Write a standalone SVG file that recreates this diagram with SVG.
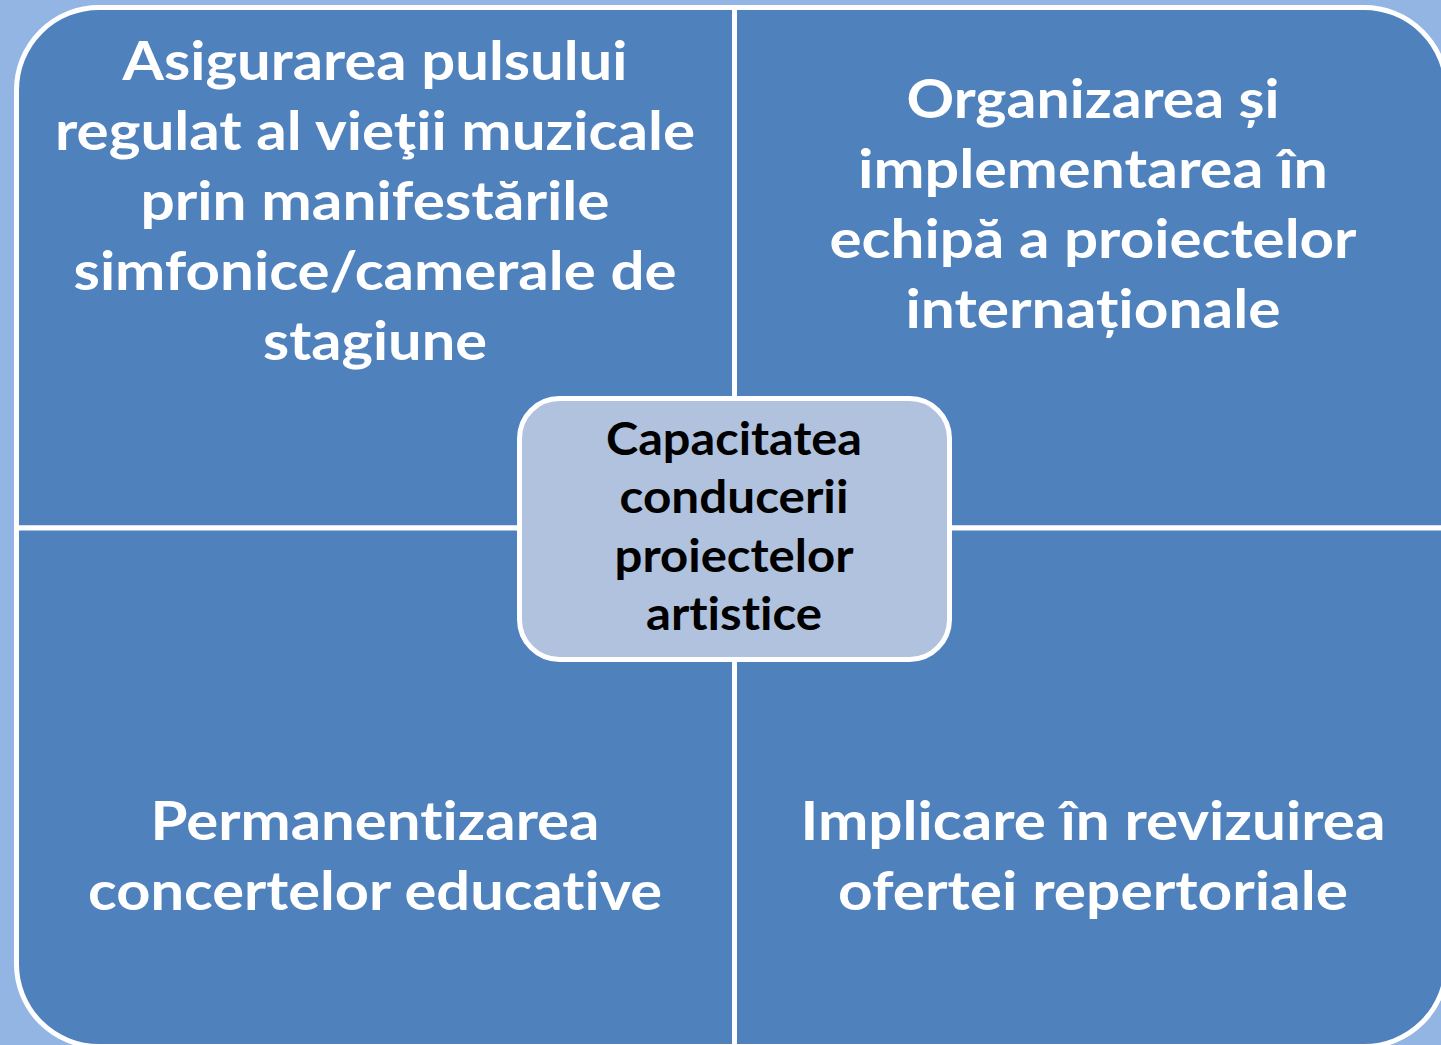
<svg xmlns="http://www.w3.org/2000/svg" width="1441" height="1045" viewBox="0 0 1441 1045">
<style>
.q{fill:#4f81bd;stroke:#ffffff;stroke-width:5;stroke-linejoin:round}
.c{fill:#b0c2de;stroke:#ffffff;stroke-width:5}
.t{font-family:Lato,"Open Sans","Liberation Sans",sans-serif;font-weight:bold;fill:#ffffff;font-size:53px;text-anchor:middle;font-variant-ligatures:none}
.ct{font-family:Lato,"Open Sans","Liberation Sans",sans-serif;font-weight:bold;fill:#000000;font-size:45px;text-anchor:middle;font-variant-ligatures:none}
</style>
<rect x="0" y="0" width="1441" height="1045" fill="#93b5e3"/>
<g id="connectors"></g>
<g id="node-tl">
<path class="q" d="M16.5,528 V90 A82.5,82.5 0 0 1 99,7.5 H734.5 V528 Z"/>
<text class="t" x="375" y="80" textLength="505" lengthAdjust="spacingAndGlyphs">Asigurarea pulsului</text>
<text class="t" x="375" y="150" textLength="640" lengthAdjust="spacingAndGlyphs">regulat al vieţii muzicale</text>
<text class="t" x="375" y="220" textLength="469" lengthAdjust="spacingAndGlyphs">prin manifestările</text>
<text class="t" x="375" y="290" textLength="603" lengthAdjust="spacingAndGlyphs">simfonice/camerale de</text>
<text class="t" x="375" y="360" textLength="224" lengthAdjust="spacingAndGlyphs">stagiune</text>
</g>
<g id="node-tr">
<path class="q" d="M734.5,7.5 H1364 A82.5,82.5 0 0 1 1446.5,90 V528 H734.5 Z"/>
<text class="t" x="1093" y="118" textLength="373" lengthAdjust="spacingAndGlyphs">Organizarea și</text>
<text class="t" x="1093" y="188" textLength="470" lengthAdjust="spacingAndGlyphs">implementarea în</text>
<text class="t" x="1093" y="258" textLength="527" lengthAdjust="spacingAndGlyphs">echipă a proiectelor</text>
<text class="t" x="1093" y="328" textLength="375" lengthAdjust="spacingAndGlyphs">internaționale</text>
</g>
<g id="node-bl">
<path class="q" d="M16.5,528 H734.5 V1046.5 H99 A82.5,82.5 0 0 1 16.5,964 Z"/>
<text class="t" x="375" y="840" textLength="449" lengthAdjust="spacingAndGlyphs">Permanentizarea</text>
<text class="t" x="375" y="910" textLength="574" lengthAdjust="spacingAndGlyphs">concertelor educative</text>
</g>
<g id="node-br">
<path class="q" d="M734.5,528 H1446.5 V964 A82.5,82.5 0 0 1 1364,1046.5 H734.5 Z"/>
<text class="t" x="1093" y="840" textLength="585" lengthAdjust="spacingAndGlyphs">Implicare în revizuirea</text>
<text class="t" x="1093" y="910" textLength="510" lengthAdjust="spacingAndGlyphs">ofertei repertoriale</text>
</g>
<g id="node-center">
<rect class="c" x="519.5" y="398.5" width="430" height="261" rx="40" ry="40"/>
<text class="ct" x="734" y="455" textLength="256" lengthAdjust="spacingAndGlyphs">Capacitatea</text>
<text class="ct" x="734" y="513" textLength="229" lengthAdjust="spacingAndGlyphs">conducerii</text>
<text class="ct" x="734" y="572" textLength="239" lengthAdjust="spacingAndGlyphs">proiectelor</text>
<text class="ct" x="734" y="630" textLength="176" lengthAdjust="spacingAndGlyphs">artistice</text>
</g>
</svg>
